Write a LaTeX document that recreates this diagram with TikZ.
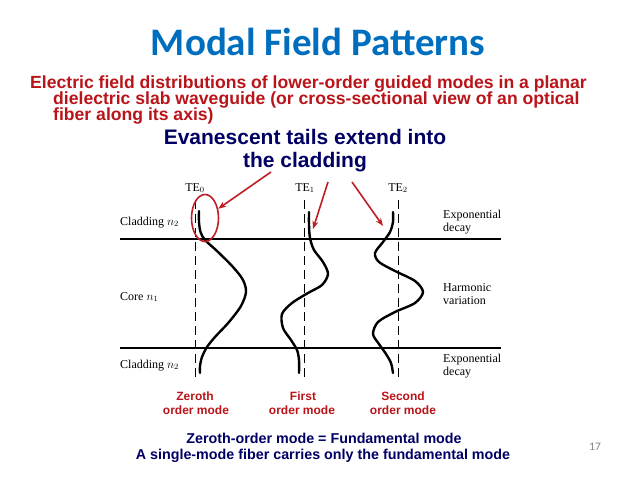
\documentclass[tikz,border=0pt]{standalone}
\usepackage{fontspec}
\setmainfont{Liberation Serif}
\newfontfamily\arialf{Liberation Sans}
\newfontfamily\calibf{Carlito}
\usetikzlibrary{arrows.meta,shapes.geometric}
\definecolor{titleblue}{RGB}{0,110,190}
\definecolor{darkred}{RGB}{185,20,25}
\definecolor{navy}{RGB}{0,0,100}
\definecolor{arrred}{RGB}{190,30,35}
\definecolor{pgray}{RGB}{130,130,130}
\tikzset{
  lbl/.style={inner sep=0pt, anchor=base west, font=\fontsize{12}{13}\selectfont},
  telbl/.style={inner sep=0pt, anchor=base, font=\fontsize{12}{13}\selectfont},
  redtxt/.style={inner sep=0pt, anchor=base west, text=darkred, font=\arialf\bfseries\fontsize{17.6}{19}\selectfont},
  navytxt/.style={inner sep=0pt, anchor=base, text=navy, font=\arialf\bfseries\fontsize{21}{23}\selectfont},
  modetxt/.style={inner sep=0pt, anchor=base, text=darkred, font=\arialf\bfseries\fontsize{12}{14}\selectfont},
  foottxt/.style={inner sep=0pt, anchor=base, text=navy, font=\arialf\bfseries\fontsize{14.3}{16}\selectfont},
  wave/.style={line width=2.4pt, line cap=round},
  bound/.style={line width=1.3pt},
  axisdash/.style={line width=1pt, dash pattern=on 9pt off 5pt},
  redarrow/.style={arrred, line width=1.6pt, -{Stealth[length=8pt,width=6pt]}}
}
\begin{document}
\begin{tikzpicture}[x=1pt,y=-1pt]
\useasboundingbox (0,0) rectangle (638,479);
% title
\node[inner sep=0pt, anchor=base, text=titleblue, font=\calibf\bfseries\fontsize{39}{42}\selectfont] (title) at (318,56) {Modal Field Patterns};
% red paragraph
\node[redtxt] (r1) at (30,88) {Electric field distributions of lower-order guided modes in a planar};
\node[redtxt] (r2) at (53,104) {dielectric slab waveguide (or cross-sectional view of an optical};
\node[redtxt] (r3) at (53,120) {fiber along its axis)};
% navy callout
\node[navytxt] (ev1) at (305,144) {Evanescent tails extend into};
\node[navytxt] (ev2) at (305,167) {the cladding};
% boundaries
\coordinate (b1l) at (120,239); \coordinate (b1r) at (501,239);
\coordinate (b2l) at (120,348); \coordinate (b2r) at (501,348);
\draw[bound] (b1l) -- (b1r);
\draw[bound] (b2l) -- (b2r);
% dashed axes
\coordinate (d0t) at (195,200); \coordinate (d0b) at (195,378);
\coordinate (d1t) at (304,200); \coordinate (d1b) at (304,378);
\coordinate (d2t) at (398,200); \coordinate (d2b) at (398,378);
\draw[axisdash] (d0t) -- (d0b);
\draw[axisdash] (d1t) -- (d1b);
\draw[axisdash] (d2t) -- (d2b);
% mode labels
\node[telbl] (te0) at (195,191) {TE$_0$};
\node[telbl] (te1) at (305,191) {TE$_1$};
\node[telbl] (te2) at (398,191) {TE$_2$};
% left labels
\node[lbl] (cl1) at (120,225) {Cladding $n_2$};
\node[lbl] (core) at (120,300) {Core $n_1$};
\node[lbl] (cl2) at (120,368) {Cladding $n_2$};
% right labels
\node[lbl] (ex1a) at (443,218) {Exponential};
\node[lbl] (ex1b) at (443,231) {decay};
\node[lbl] (hva) at (443,291) {Harmonic};
\node[lbl] (hvb) at (443,304) {variation};
\node[lbl] (ex2a) at (443,362) {Exponential};
\node[lbl] (ex2b) at (443,375) {decay};
% field curves
\draw[wave] plot[smooth] coordinates {(199,211) (199,222) (200.5,232) (205,240) (217,251) (233,267) (243,280) (246,292) (241,306) (229,322) (215,337) (207,347) (202,357) (200,366) (200,373)};
\draw[wave] plot[smooth] coordinates {(309,212) (309,225) (310,238) (314,250) (323,262) (328,274) (322,285) (308,293) (292,303) (282,314) (283,328) (291,340) (297,350) (299,360) (299,373)};
\draw[wave] plot[smooth] coordinates {(393,212) (393,222) (390,232) (383,242) (375,253) (379,262) (395,271) (415,281) (423,292) (415,303) (395,312) (378,322) (373,334) (379,344) (386,354) (391,363) (393,373)};
% ellipse and arrows
\node[ellipse, draw=arrred, line width=1.6pt, minimum width=27pt, minimum height=47pt, inner sep=0pt] (e0) at (205,218) {};
\coordinate (a0) at (271,172);
\coordinate (a1) at (328,182); \coordinate (t1) at (313,229);
\coordinate (a2) at (352,182); \coordinate (t2) at (383,226);
\draw[redarrow] (a0) -- (e0.35);
\draw[redarrow] (a1) -- (t1);
\draw[redarrow] (a2) -- (t2);
% bottom mode names
\node[modetxt] (m0a) at (195,400) {Zeroth};
\node[modetxt] (m0b) at (196,414) {order mode};
\node[modetxt] (m1a) at (303,400) {First};
\node[modetxt] (m1b) at (302,414) {order mode};
\node[modetxt] (m2a) at (403,400) {Second};
\node[modetxt] (m2b) at (403,414) {order mode};
% footer
\node[foottxt] (f1) at (324,443) {Zeroth-order mode = Fundamental mode};
\node[foottxt] (f2) at (323,459) {A single-mode fiber carries only the fundamental mode};
\node[inner sep=0pt, anchor=base, text=pgray, font=\calibf\fontsize{11.5}{12}\selectfont] (pg) at (595,450) {17};
\end{tikzpicture}
\end{document}
